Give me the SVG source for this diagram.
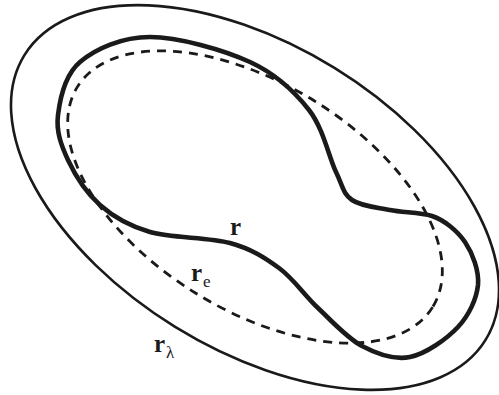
<svg xmlns="http://www.w3.org/2000/svg" width="499" height="395" viewBox="0 0 499 395">
<style>
.curve{fill:none;stroke:#1a1a1a}
.lam{stroke-width:2.6}
.ell{stroke-width:2.8;stroke-dasharray:9 7}
.r{stroke-width:4.6;stroke-linejoin:round}
.lbl{font-family:"Liberation Serif","DejaVu Serif",serif;fill:#1a1a1a}
.b{font-weight:bold;font-size:25px}
.sub{font-size:17px}
</style>
<rect width="499" height="395" fill="#fff"/>
<g id="connectors">
<g id="r_lambda"><ellipse class="curve lam" cx="255" cy="197.5" rx="271" ry="152" transform="rotate(31.7 255 197.5)"/></g>
<g id="r_e"><ellipse class="curve ell" cx="255" cy="197" rx="209" ry="113" transform="rotate(31.8 255 197)"/></g>
<g id="r_curve"><path class="curve r" d="M150,37 C178.3,37 223.5,49.8 250,62 C276.5,74.2 294.7,91.7 309,110 C323.3,128.3 328.8,157 336,172 C343.2,187 343,193.7 352,200 C361,206.3 376.7,207.3 390,210 C403.3,212.7 420,212 432,216 C444,220 457.3,230.5 465,242 C472.7,253.5 479.2,270.8 478,285 C476.5,298.7 469.3,315 458,327 C446.7,339 426,353.8 410,357 C394,360.2 377.3,354.2 362,346 C346.7,337.8 331.8,321 318,308 C304.2,295 293.7,278.8 279,268 C264.3,257.2 251.5,249 230,243 C208.5,237 171.7,238.3 150,232 C128.3,225.7 113.7,217.2 100,205 C86.3,192.8 75,175 68,160 C61,145 56,131.3 58,115 C60,98.7 64.7,75 80,62 C95.3,49 121.7,37 150,37 Z"/></g>
</g>
<g id="labels">
<text class="lbl b" x="230" y="235">r</text>
<text class="lbl b" x="191" y="281">r<tspan class="sub" font-weight="normal" dx="1" dy="6">e</tspan></text>
<text class="lbl b" x="154" y="352">r<tspan class="sub" font-weight="normal" dx="1" dy="6">λ</tspan></text>
</g>
</svg>
